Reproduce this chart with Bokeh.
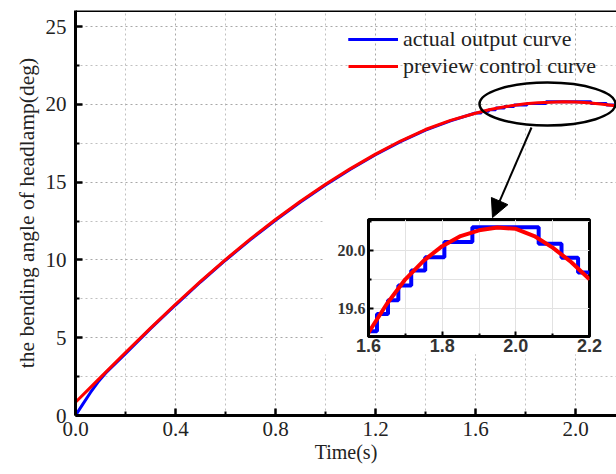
from bokeh.plotting import figure
from bokeh.models import (Range1d, FixedTicker, PrintfTickFormatter, Legend, LegendItem,
                          Span, Arrow, NormalHead, BoxAnnotation)
from bokeh.embed import file_html
from bokeh.resources import INLINE

# ---------------- data ----------------
red_t = [0.0, 0.05, 0.1, 0.2, 0.3, 0.4, 0.5, 0.6, 0.7, 0.8, 0.9, 1.0, 1.1, 1.2, 1.3, 1.4,
         1.5, 1.6, 1.65, 1.7, 1.75, 1.8, 1.85, 1.9, 1.95, 2.0, 2.05, 2.1, 2.15, 2.2]
red_y = [0.85, 1.65, 2.45, 4.05, 5.62, 7.15, 8.62, 10.02, 11.35, 12.6, 13.77, 14.86, 15.87,
         16.8, 17.64, 18.38, 18.97, 19.43, 19.63, 19.8, 19.93, 20.03, 20.1, 20.14, 20.16,
         20.15, 20.1, 20.02, 19.92, 19.8]

blue_t = [0.0, 0.03, 0.06, 0.09, 0.12, 0.2, 0.3, 0.4, 0.5, 0.6, 0.7, 0.8, 0.9, 1.0, 1.1,
          1.2, 1.3, 1.4, 1.5, 1.6]
blue_y = [0.0, 0.75, 1.48, 2.15, 2.72, 3.98, 5.58, 7.1, 8.58, 9.98, 11.3, 12.55, 13.72, 14.82,
          15.83, 16.76, 17.6, 18.34, 18.94, 19.44]

step_t = [1.6, 1.623, 1.653, 1.681, 1.716, 1.754, 1.806, 1.882, 2.062, 2.124, 2.169, 2.2]
step_y = [19.44, 19.56, 19.655, 19.757, 19.861, 19.953, 20.058, 20.162, 20.047, 19.95,
          19.847, 19.847]

x_major = [0.0, 0.4, 0.8, 1.2, 1.6, 2.0]
x_minor = [0.2, 0.6, 1.0, 1.4, 1.8, 2.2]
y_major = [0, 5, 10, 15, 20, 25]
y_minor = [2.5, 7.5, 12.5, 17.5, 22.5]

ix_major = [1.6, 1.8, 2.0, 2.2]
ix_minor = [1.7, 1.9, 2.1]
iy_major = [19.6, 20.0]
iy_minor = [19.8, 20.2]

series_names = ["actual output curve", "preview control curve"]

BLUE = "#0000ff"
RED = "#ff0000"
SERIF = "Liberation Serif"
SANS = "Liberation Sans"

# ---------------- main figure ----------------
X_MAX = 2.164
Y_MAX = 26.03
p = figure(width=616, height=474, output_backend="svg", toolbar_location=None,
           x_range=Range1d(0, X_MAX), y_range=Range1d(0, Y_MAX),
           min_border_left=75, min_border_right=0, min_border_top=10, min_border_bottom=59)
p.outline_line_color = None
p.background_fill_color = "white"
p.border_fill_color = "white"

p.xaxis.ticker = FixedTicker(ticks=x_major, minor_ticks=x_minor)
p.yaxis.ticker = FixedTicker(ticks=y_major, minor_ticks=y_minor)
p.xaxis.formatter = PrintfTickFormatter(format="%.1f")
p.yaxis.formatter = PrintfTickFormatter(format="%d")
for ax in (p.xaxis[0], p.yaxis[0]):
    ax.axis_line_width = 3
    ax.axis_line_color = "black"
    ax.major_tick_in = 7
    ax.major_tick_out = 0
    ax.minor_tick_in = 4
    ax.minor_tick_out = 0
    ax.major_tick_line_width = 2.5
    ax.minor_tick_line_width = 2
    ax.major_tick_line_color = "black"
    ax.minor_tick_line_color = "black"
    ax.major_label_text_font = SERIF
    ax.major_label_text_font_size = "21px"
    ax.major_label_text_color = "#222222"
    ax.axis_label_text_font = SERIF
    ax.axis_label_text_font_style = "normal"
    ax.axis_label_text_color = "#222222"
p.xaxis.axis_label = "Time(s)"
p.yaxis.axis_label = "the bending angle of headlamp(deg)"
p.xaxis.axis_label_text_font_size = "20px"
p.yaxis.axis_label_text_font_size = "21.5px"
p.xaxis.major_label_standoff = 6
p.xaxis.axis_label_standoff = 2
p.yaxis.major_label_standoff = 9
p.yaxis.axis_label_standoff = 4

for g in (p.xgrid[0], p.ygrid[0]):
    g.grid_line_color = "#a8a8a8"
    g.grid_line_dash = "2 3"
    g.grid_line_width = 1
    g.minor_grid_line_color = "#c0c0c0"
    g.minor_grid_line_dash = "2 3"
    g.minor_grid_line_width = 1

# top frame border
p.add_layout(Span(location=Y_MAX, dimension="width", line_color="black", line_width=3))

# white area behind the inset's labels
p.add_layout(BoxAnnotation(left=0.992, bottom=3.92, top=13.88, fill_color="white",
                           fill_alpha=1.0, line_color=None, level="underlay"))

b1 = p.line(blue_t, blue_y, line_color=BLUE, line_width=3)
b2 = p.step(step_t, step_y, mode="after", line_color=BLUE, line_width=3)
r1 = p.line(red_t, red_y, line_color=RED, line_width=3)

# zoom ellipse and arrow
p.ellipse(x=[1.888], y=[20.02], width=0.544, height=2.76, fill_color=None,
          line_color="black", line_width=2.5)
p.add_layout(Arrow(end=NormalHead(size=18, fill_color="black", line_color="black"),
                   x_start=1.824, y_start=18.51, x_end=1.668, y_end=12.72,
                   line_color="black", line_width=2))

legend = Legend(items=[LegendItem(label=series_names[0], renderers=[b1, b2]),
                       LegendItem(label=series_names[1], renderers=[r1])],
                location=(273, 336), padding=0, margin=0, spacing=1,
                glyph_width=50, glyph_height=20, label_height=20, label_standoff=5,
                background_fill_alpha=0, border_line_color=None,
                label_text_font=SERIF, label_text_font_size="22px",
                label_text_color="#222222")
p.add_layout(legend)

# ---------------- inset figure ----------------
ins = figure(width=293, height=161, output_backend="svg", toolbar_location=None,
             x_range=Range1d(1.6, 2.2), y_range=Range1d(19.403, 20.215),
             min_border_left=45, min_border_right=27, min_border_top=20, min_border_bottom=24)
ins.border_fill_color = None
ins.background_fill_color = "white"
ins.outline_line_color = "black"
ins.outline_line_width = 3
ins.styles = {"position": "absolute", "left": "323px", "top": "199px"}

ins.xaxis.ticker = FixedTicker(ticks=ix_major, minor_ticks=ix_minor)
ins.yaxis.ticker = FixedTicker(ticks=iy_major, minor_ticks=iy_minor)
ins.xaxis.formatter = PrintfTickFormatter(format="%.1f")
ins.yaxis.formatter = PrintfTickFormatter(format="%.1f")
for ax in (ins.xaxis[0], ins.yaxis[0]):
    ax.axis_line_width = 3
    ax.axis_line_color = "black"
    ax.major_tick_in = 5
    ax.major_tick_out = 0
    ax.minor_tick_in = 3
    ax.minor_tick_out = 0
    ax.major_tick_line_width = 2
    ax.minor_tick_line_width = 2
    ax.major_tick_line_color = "black"
    ax.minor_tick_line_color = "black"
    ax.major_label_text_color = "#333333"
ins.xaxis.major_label_text_font = SANS
ins.xaxis.major_label_text_font_size = "18px"
ins.xaxis.major_label_text_font_style = "bold"
ins.xaxis.major_label_standoff = 2
ins.yaxis.major_label_text_font = SERIF
ins.yaxis.major_label_text_font_size = "16px"
ins.yaxis.major_label_text_font_style = "bold"
ins.yaxis.major_label_standoff = 3

for g in (ins.xgrid[0], ins.ygrid[0]):
    g.grid_line_color = "#e2e2e2"
    g.grid_line_width = 1
    g.minor_grid_line_color = "#e2e2e2"
    g.minor_grid_line_width = 1

ins.line(blue_t, blue_y, line_color=BLUE, line_width=4)
ins.step(step_t, step_y, mode="after", line_color=BLUE, line_width=4)
ins.line(red_t, red_y, line_color=RED, line_width=4)

open("out.html", "w").write(file_html([p, ins], INLINE))
